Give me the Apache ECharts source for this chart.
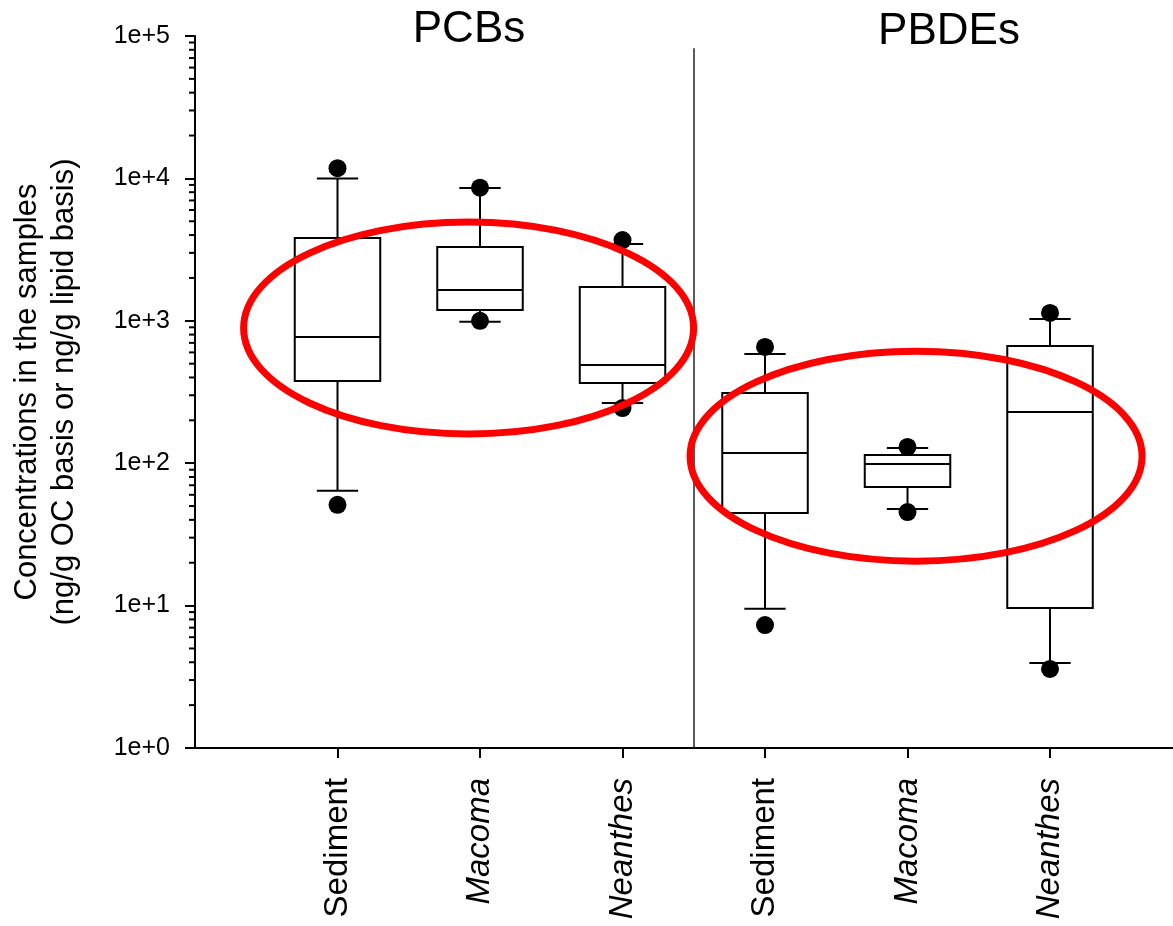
<!DOCTYPE html>
<html lang="en">
<head>
<meta charset="UTF-8">
<title>PCBs / PBDEs</title>
<script src="https://cdn.jsdelivr.net/npm/echarts@6/dist/echarts.min.js"></script>
<style>
  html, body { margin: 0; padding: 0; background: #fff; }
  #main { width: 1173px; height: 926px; }
</style>
</head>
<body>
<div id="main"></div>
<script>
// sample types along the bottom, one box per position
var categories = ['Sediment', 'Macoma', 'Neanthes', 'Sediment', 'Macoma', 'Neanthes'];
var italicNames = ['Macoma', 'Neanthes'];
var positions = [1, 2, 3, 4, 5, 6];
var groups = ['PCBs', 'PBDEs'];

// box statistics
var whiskerLow  = [64, 985, 265, 9.5, 47.7, 3.95];
var q1          = [378, 1190, 366, 44.7, 68, 9.6];
var median      = [770, 1645, 490, 118, 98.7, 229];
var q3          = [3820, 3300, 1727, 311, 114, 665];
var whiskerHigh = [10000, 8550, 3460, 585, 128, 1030];

// the dots beyond the whiskers
var outHigh = [11800, 8600, 3690, 655, 130, 1135];
var outLow  = [51, 1000, 244, 7.3, 45.4, 3.59];

// major ticks of the y axis
var yTicks = [1, 10, 100, 1000, 10000, 100000];

var FONT = '"Liberation Sans", Arial, Helvetica, sans-serif';

var boxData = positions.map(function (p, i) {
    return [p, whiskerLow[i], q1[i], median[i], q3[i], whiskerHigh[i]];
});
var dotData = [];
positions.forEach(function (p, i) {
    dotData.push([p, outHigh[i]]);
    dotData.push([p, outLow[i]]);
});
// 2..9 inside each decade
var minorData = [];
for (var k = 0; k < yTicks.length - 1; k++) {
    for (var m = 2; m <= 9; m++) minorData.push([0, yTicks[k] * m]);
}

var chart = echarts.init(document.getElementById('main'));

function renderBox(params, api) {
    var x = api.value(0);
    var c = api.coord([x, api.value(3)]);
    var unit = api.coord([x + 1, api.value(3)])[0] - c[0];
    var hw = unit * 0.3;      // half box width
    var cw = unit * 0.145;    // half cap width
    var yLow = api.coord([x, api.value(1)])[1];
    var yQ1 = api.coord([x, api.value(2)])[1];
    var yMed = c[1];
    var yQ3 = api.coord([x, api.value(4)])[1];
    var yHigh = api.coord([x, api.value(5)])[1];
    var st = { stroke: '#000', lineWidth: 2, fill: null };
    return {
        type: 'group',
        children: [
            { type: 'line', shape: { x1: c[0], y1: yQ3, x2: c[0], y2: yHigh }, style: st },
            { type: 'line', shape: { x1: c[0], y1: yQ1, x2: c[0], y2: yLow }, style: st },
            { type: 'line', shape: { x1: c[0] - cw, y1: yHigh, x2: c[0] + cw, y2: yHigh }, style: st },
            { type: 'line', shape: { x1: c[0] - cw, y1: yLow, x2: c[0] + cw, y2: yLow }, style: st },
            { type: 'rect', shape: { x: c[0] - hw, y: yQ3, width: hw * 2, height: yQ1 - yQ3 },
              style: { stroke: '#000', lineWidth: 2, fill: '#fff' } },
            { type: 'line', shape: { x1: c[0] - hw, y1: yMed, x2: c[0] + hw, y2: yMed }, style: st }
        ]
    };
}

function renderMinor(params, api) {
    var p = api.coord([0, api.value(1)]);
    return { type: 'line', shape: { x1: p[0] - 6, y1: p[1], x2: p[0], y2: p[1] },
             style: { stroke: '#000', lineWidth: 2 } };
}

var option = {
    animation: false,
    backgroundColor: '#fff',
    textStyle: { fontFamily: FONT },
    grid: { left: 195, right: 0, top: 36, bottom: 178, containLabel: false, outerBoundsMode: 'none' },
    xAxis: {
        type: 'value',
        min: 0,
        max: 6.863,
        interval: 1,
        splitLine: { show: false },
        axisLine: { show: true, lineStyle: { color: '#000', width: 2 } },
        axisTick: { show: true, customValues: positions, length: 10, lineStyle: { color: '#000', width: 2 } },
        axisLabel: {
            customValues: positions,
            rotate: 90,
            margin: 30,
            fontSize: 33,
            color: '#000',
            fontFamily: FONT,
            formatter: function (v) {
                var name = categories[positions.indexOf(v)] || '';
                return italicNames.indexOf(name) >= 0 ? '{it|' + name + '}' : name;
            },
            rich: {
                it: { fontStyle: 'italic', fontSize: 33, color: '#000', fontFamily: FONT }
            }
        }
    },
    yAxis: {
        type: 'log',
        logBase: 10,
        min: 1,
        max: 100000,
        splitLine: { show: false },
        axisLine: { show: true, lineStyle: { color: '#000', width: 2 } },
        axisTick: { show: true, length: 10, lineStyle: { color: '#000', width: 2 } },
        axisLabel: {
            fontSize: 25,
            color: '#000',
            margin: 25,
            fontFamily: FONT,
            formatter: function (v) { return '1e+' + Math.round(Math.log10(v)); }
        },
        name: 'Concentrations in the samples\n(ng/g OC basis or ng/g lipid basis)',
        nameLocation: 'middle',
        nameRotate: 90,
        nameGap: 112,
        nameTextStyle: { fontSize: 31, lineHeight: 37, color: '#000', fontFamily: FONT }
    },
    series: [
        {
            type: 'custom',
            name: 'minor ticks',
            clip: false,
            silent: true,
            renderItem: renderMinor,
            data: minorData,
            encode: { x: 0, y: 1 }
        },
        {
            type: 'custom',
            name: 'boxes',
            silent: true,
            renderItem: renderBox,
            data: boxData,
            encode: { x: 0, y: [1, 2, 3, 4, 5] },
            z: 3
        },
        {
            type: 'scatter',
            name: 'outliers',
            symbol: 'circle',
            symbolSize: 18,
            itemStyle: { color: '#000', opacity: 1 },
            data: dotData,
            z: 4,
            markLine: {
                silent: true,
                symbol: ['none', 'none'],
                label: { show: false },
                lineStyle: { color: '#222', width: 1.5, type: 'solid', opacity: 1 },
                data: [[{ coord: [3.5, 1] }, { coord: [3.5, 82000] }]]
            }
        }
    ],
    graphic: [
        { type: 'text', x: 469, y: 30, z: 50,
          style: { text: groups[0], font: '44px ' + FONT, fill: '#000', textAlign: 'center', textVerticalAlign: 'middle' } },
        { type: 'text', x: 949, y: 32, z: 50,
          style: { text: groups[1], font: '44px ' + FONT, fill: '#000', textAlign: 'center', textVerticalAlign: 'middle' } }
    ]
};

chart.setOption(option);

// red rings drawn round the two groups, centred in data space
var ringCentres = [[1.92, 890], [5.06, 112]];
var ringRadii = [[225, 106], [226, 105]];
var rings = ringCentres.map(function (c, i) {
    var p = chart.convertToPixel({ gridIndex: 0 }, c);
    return {
        type: 'ellipse', z: 100, silent: true,
        shape: { cx: p[0], cy: p[1], rx: ringRadii[i][0], ry: ringRadii[i][1] },
        style: { fill: null, stroke: '#ff0000', lineWidth: 7 }
    };
});
chart.setOption({ graphic: option.graphic.concat(rings) });
</script>
</body>
</html>
